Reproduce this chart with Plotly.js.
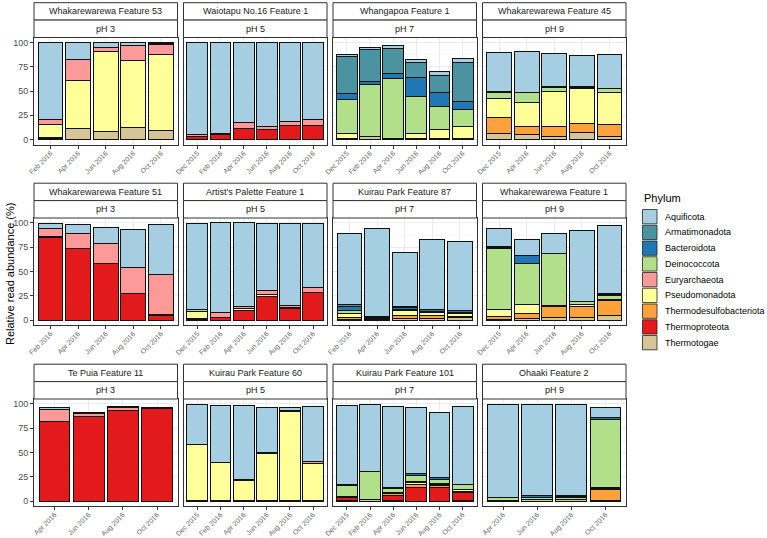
<!DOCTYPE html>
<html>
<head>
<meta charset="utf-8">
<script src="https://cdn.plot.ly/plotly-3.0.1.min.js"></script>
<style>html,body{margin:0;padding:0;background:#fff;}#chart{width:767px;height:538px;}</style>
</head>
<body>
<div id="chart"></div>
<script>
// Stacking order (bottom -> top)
const phyla = ["Thermotogae","Thermoproteota","Thermodesulfobacteriota","Pseudomonadota","Euryarchaeota","Deinococcota","Bacteroidota","Armatimonadota","Aquificota"];
const phylumColors = ["#d5c597","#e31a1c","#fda13a","#ffff99","#fb9a99","#b2df8a","#1f78b4","#4b93a0","#a6cee3"];

const panelNames = ["Whakarewarewa Feature 53","Waiotapu No.16 Feature 1","Whangapoa Feature 1","Whakarewarewa Feature 45",
  "Whakarewarewa Feature 51","Artist's Palette Feature 1","Kuirau Park Feature 87","Whakarewarewa Feature 1",
  "Te Puia Feature 11","Kuirau Park Feature 60","Kuirau Park Feature 101","Ohaaki Feature 2"];
const panelPH = ["pH 3","pH 5","pH 7","pH 9","pH 3","pH 5","pH 7","pH 9","pH 3","pH 5","pH 7","pH 9"];

const datesW53 = ["Feb 2016","Apr 2016","Jun 2016","Aug 2016","Oct 2016"];
const datesWaiotapu = ["Dec 2015","Feb 2016","Apr 2016","Jun 2016","Aug 2016","Oct 2016"];
const datesWhangapoa = ["Dec 2015","Feb 2016","Apr 2016","Jun 2016","Aug 2016","Oct 2016"];
const datesW45 = ["Dec 2015","Apr 2016","Jun 2016","Aug 2016","Oct 2016"];
const datesW51 = ["Feb 2016","Apr 2016","Jun 2016","Aug 2016","Oct 2016"];
const datesArtist = ["Dec 2015","Feb 2016","Apr 2016","Jun 2016","Aug 2016","Oct 2016"];
const datesK87 = ["Feb 2016","Apr 2016","Jun 2016","Aug 2016","Oct 2016"];
const datesW1 = ["Dec 2015","Apr 2016","Jun 2016","Aug 2016","Oct 2016"];
const datesTePuia = ["Apr 2016","Jun 2016","Aug 2016","Oct 2016"];
const datesK60 = ["Dec 2015","Feb 2016","Apr 2016","Jun 2016","Aug 2016","Oct 2016"];
const datesK101 = ["Dec 2015","Feb 2016","Apr 2016","Jun 2016","Aug 2016","Oct 2016"];
const datesOhaaki = ["Apr 2016","Jun 2016","Aug 2016","Oct 2016"];

// one row per sample, columns in the phyla order above (%)
const valsW53 = [[1,1,0,14,5,0,0,0,79],[11,0,0,50,21.5,0,0,0,17],[8,0,0,82.5,4.5,0,0,0,5],[12,0,0,69,16,0,0,0,2.5],[9,0,0,79,10,0.5,0,0,1]];
const valsWaiotapu = [[0,3,0,0,2,0,0,0,95],[0,5,0,0,1,0,0,0,94],[0,11,0,0,7,0,0,0,82],[0,10,0,0,3,0,0,0,87],[0,15,0,0,3.5,0,0,0,81.5],[0,15,0,0,6,0,0,0,79]];
const valsWhangapoa = [[1,0,0,5,0,35,6,38,3],[3,0,0,0,0,54,3,33,1.5],[1,0,0,0,0,61.5,5,26,3.5],[1,0,0,5,0,38,20,15,3],[1,0,0,9,0,24,14,18,4.5],[1,0,0,12,0,17.5,9,39.5,4]];
const valsW45 = [[6.5,0,16.5,19,0,6,1,0,41],[5,0,8.5,25,0,10,0,0,42.5],[3,0,11,35.5,0,4,1.5,0,34],[7,0,10,35.5,0,1.5,1,0,31],[3,0,13,32.5,0,4,0.5,0,34.5]];
const valsW51 = [[0,85,0,0.8,8.2,0,0,0,5],[0,74,0,0,15,0,0,0,9],[0,58,0,0,20.5,0,0,0,16.5],[0,27,0,0,27,0,0,0,39.5],[0,5,0,1,41,0,0,0,51]];
const valsArtist = [[1,1,0,7,0,1.5,0,0,89],[0,3,0,0,5,0,0,0,92],[0,10,0,1.5,2.5,0,0,0,86],[0,24,0,2.5,4,0,0,0,68.5],[0,11.5,0,1,3,0,0,0,84],[0,28,0,0,5.5,0,0,0,66]];
const valsK87 = [[1,0,2,4,0,3,4,2,73],[1,0,1,1,0,1,0,0,90],[1.5,0,3,5,0,1.5,2,1,56],[1.5,0,3.5,3,0,1,1.5,0,72],[2.5,0,1,3.5,0,1,1.5,0,71.5]];
const valsW1 = [[1,0,3,7,0,62.5,1.5,0.5,19],[2,0,5,9.5,0,42,7.5,0,16.5],[2.5,0,12,1,0,52.5,1,0,20.5],[3,0,11.5,1.5,0,3.5,0,0,73],[4.5,0,15.5,1,0,4,1,1.5,69.5]];
const valsTePuia = [[0,82,0,0,12.5,0,0,0,1.5],[0,87,0,0,3.5,0,0,0,1],[0,93,0,0,3,0,0,0,1],[0,95.5,0,0,0.5,0,0,0,0.5]];
const valsK60 = [[1,0,0,57,0,0,0,0,41],[1,0,0,39,0,0,0,0,58],[0.5,0,0,21,1,0,0,0,76],[0.5,0,0,48,0,1,0,0,46.5],[0.5,0,0,91.5,0,1,0,0,3],[1,0,0,37.5,2,0,0,0,56.5]];
const valsK101 = [[1,3,1,0,0,11.5,1,0,80.5],[1.5,0,0,0.5,0,28,0,0,69.5],[0.5,5,2.5,1,0,4.5,1,0,83],[0,14,3,2,1,6.5,2,0,67.5],[0,14,2,1.5,0.5,4.5,2,0,67],[1,7.5,1.5,1.5,0,5.5,0.5,0,80]];
const valsOhaaki = [[1,0,0,0,0,2.5,0,0,96],[1.5,0,0,0.5,0,2,1.5,0,94],[1.5,0,0,0,0,2.5,1,1,93],[1,0,10.5,1,2,69.5,1.5,1,9.5]];

const panelDates = [datesW53,datesWaiotapu,datesWhangapoa,datesW45,datesW51,datesArtist,datesK87,datesW1,datesTePuia,datesK60,datesK101,datesOhaaki];
const panelVals = [valsW53,valsWaiotapu,valsWhangapoa,valsW45,valsW51,valsArtist,valsK87,valsW1,valsTePuia,valsK60,valsK101,valsOhaaki];

// ---------- layout geometry (pixels) ----------
const W = 767, H = 538;
const px = x => x / W, py = y => 1 - y / H;
const colLeft = [34, 183.5, 333, 482.5], colW = 143.5;
const rowTop = [37.5, 218, 399], rowH = 107, stripH = 17.4;
const FONT = "Liberation Sans, Arial, Helvetica, sans-serif";

const traces = [];
const layout = {
  width: W, height: H, margin: {l:0, r:0, t:0, b:0},
  paper_bgcolor: "#ffffff", plot_bgcolor: "#ffffff",
  barmode: "stack", bargap: 0.1, showlegend: false,
  font: {family: FONT, color: "#1a1a1a"},
  shapes: [], annotations: []
};

panelNames.forEach((name, i) => {
  const r = Math.floor(i / 4), c = i % 4, n = i + 1;
  const xs = n === 1 ? "x" : "x" + n, ys = n === 1 ? "y" : "y" + n;
  const xk = n === 1 ? "xaxis" : "xaxis" + n, yk = n === 1 ? "yaxis" : "yaxis" + n;
  const dates = panelDates[i], vals = panelVals[i];
  phyla.forEach((ph, k) => {
    traces.push({
      type: "bar", name: ph, x: dates,
      y: vals.map(row => row[k] > 0 ? row[k] : null),
      xaxis: xs, yaxis: ys,
      marker: {color: phylumColors[k], line: {color: "#111111", width: 1}},
      hoverinfo: "skip"
    });
  });
  const x0 = colLeft[c], x1 = colLeft[c] + colW, yT = rowTop[r], yB = rowTop[r] + rowH;
  layout[xk] = {
    domain: [px(x0), px(x1)], anchor: ys, type: "category",
    categoryorder: "array", categoryarray: dates,
    range: [-0.6, dates.length - 0.4],
    tickangle: -45, tickfont: {size: 7, color: "#666666", family: FONT},
    ticklabelstandoff: -2,
    ticks: "outside", ticklen: 3, tickcolor: "#333333", tickwidth: 1,
    showgrid: true, gridcolor: "#ebebeb", gridwidth: 1,
    showline: true, mirror: true, linecolor: "#333333", linewidth: 1,
    zeroline: false, fixedrange: true
  };
  layout[yk] = {
    domain: [py(yB), py(yT)], anchor: xs, range: [-5, 105],
    tickvals: [0, 25, 50, 75, 100],
    showticklabels: c === 0, ticks: c === 0 ? "outside" : "",
    ticklen: 3, tickcolor: "#333333",
    tickfont: {size: 9, color: "#4d4d4d", family: FONT},
    showgrid: true, gridcolor: "#ebebeb", gridwidth: 1,
    minor: {tickvals: [12.5, 37.5, 62.5, 87.5], showgrid: true, gridcolor: "#f3f3f3", gridwidth: 0.6},
    showline: true, mirror: true, linecolor: "#333333", linewidth: 1,
    zeroline: false, fixedrange: true
  };
  // strips
  [[yT - 2 * stripH, yT - stripH, name], [yT - stripH, yT, panelPH[i]]].forEach(s => {
    layout.shapes.push({type: "rect", xref: "paper", yref: "paper",
      x0: px(x0), x1: px(x1), y0: py(s[1]), y1: py(s[0]),
      fillcolor: "#ffffff", line: {color: "#333333", width: 1}});
    layout.annotations.push({xref: "paper", yref: "paper", x: px((x0 + x1) / 2), y: py((s[0] + s[1]) / 2),
      text: s[2], showarrow: false, xanchor: "center", yanchor: "middle",
      font: {size: 9, color: "#1a1a1a", family: FONT}});
  });
});

// y-axis title
layout.annotations.push({xref: "paper", yref: "paper", x: px(10), y: py(274), text: "Relative read abundance (%)",
  textangle: -90, showarrow: false, xanchor: "center", yanchor: "middle", font: {size: 11, color: "#000000", family: FONT}});

// legend (drawn as key boxes + labels, top entry = top of stack)
layout.annotations.push({xref: "paper", yref: "paper", x: px(641.5), y: py(198), text: "Phylum",
  showarrow: false, xanchor: "left", yanchor: "middle", font: {size: 11, color: "#000000", family: FONT}});
const legendOrder = phyla.map((p, k) => k).reverse();
legendOrder.forEach((k, j) => {
  const top = 209.5 + j * 15.75;
  layout.shapes.push({type: "rect", xref: "paper", yref: "paper",
    x0: px(642.5), x1: px(657), y0: py(top + 14.3), y1: py(top),
    fillcolor: phylumColors[k], line: {color: "#222222", width: 0.8}});
  layout.annotations.push({xref: "paper", yref: "paper", x: px(663), y: py(top + 7.2), text: phyla[k],
    showarrow: false, xanchor: "left", yanchor: "middle", font: {size: 9, color: "#000000", family: FONT}});
});

Plotly.newPlot("chart", traces, layout, {staticPlot: true, displayModeBar: false});
</script>
</body>
</html>
